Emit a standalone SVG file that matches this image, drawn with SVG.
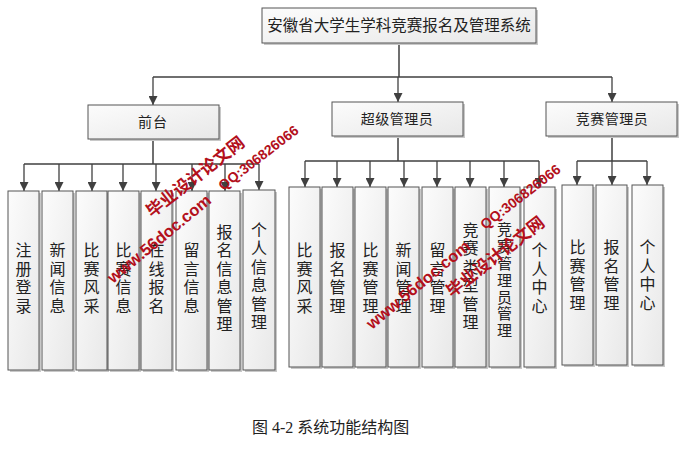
<svg xmlns="http://www.w3.org/2000/svg" width="699" height="462" viewBox="0 0 699 462">
<style>
.bg{fill:#ffffff}
.box{fill:url(#g);stroke:#555;stroke-width:1}
.sh{fill:#c8c8c8}
.t{font-family:"Noto Sans CJK SC","Liberation Sans",sans-serif;font-size:14px;fill:#222;text-anchor:middle}
.v{font-family:"Noto Sans CJK SC","Liberation Sans",sans-serif;font-size:16px;fill:#222;text-anchor:middle;writing-mode:vertical-rl;letter-spacing:2.5px}
.ln{fill:none;stroke:#404040;stroke-width:1.5}
.ar{fill:none;stroke:#404040;stroke-width:1.3;marker-end:url(#ah)}
.cap{font-family:"Liberation Serif","Noto Sans CJK SC",serif;font-size:16px;fill:#222}
.wm{font-family:"Liberation Sans","Noto Sans CJK SC",sans-serif;font-weight:bold;fill:#b3101c}
</style>
<defs>
<linearGradient id="g" x1="0" y1="0" x2="1" y2="1">
<stop offset="0" stop-color="#fcfcfc"/>
<stop offset="1" stop-color="#e8e8e8"/>
</linearGradient>
<marker id="ah" viewBox="0 0 10 10" refX="10" refY="5" markerWidth="9" markerHeight="9" markerUnits="userSpaceOnUse" orient="auto">
<path d="M0,0 L10,5 L0,10 z" fill="#404040"/>
</marker>
</defs>
<rect class="bg" x="0" y="0" width="699" height="462"/>

<g id="connectors">
<path class="ln" d="M399,43 V77 M153,77 H612"/>
<path class="ar" d="M153,77 V105"/>
<path class="ar" d="M398,77 V102"/>
<path class="ar" d="M612,77 V102"/>
<path class="ln" d="M153,139 V164 M24,164 H259"/>
<path class="ar" d="M24,164 V191"/>
<path class="ar" d="M59,164 V191"/>
<path class="ar" d="M92,164 V191"/>
<path class="ar" d="M123,164 V191"/>
<path class="ar" d="M156,164 V191"/>
<path class="ar" d="M192,164 V191"/>
<path class="ar" d="M225,164 V191"/>
<path class="ar" d="M259,164 V190"/>
<path class="ln" d="M398,136 V161 M305,161 H539"/>
<path class="ar" d="M305,161 V187"/>
<path class="ar" d="M337,161 V187"/>
<path class="ar" d="M370,161 V187"/>
<path class="ar" d="M404,161 V187"/>
<path class="ar" d="M437,161 V187"/>
<path class="ar" d="M470,161 V187"/>
<path class="ar" d="M504,161 V187"/>
<path class="ar" d="M539,161 V187"/>
<path class="ln" d="M612,136 V161 M577,161 H647"/>
<path class="ar" d="M577,161 V185"/>
<path class="ar" d="M612,161 V185"/>
<path class="ar" d="M647,161 V185"/>
</g>

<g id="root">
<rect class="sh" x="264" y="10" width="274" height="35"/>
<rect class="box" x="262" y="8" width="274" height="35"/>
<text class="t" x="399" y="31" style="font-size:15.5px">安徽省大学生学科竞赛报名及管理系统</text>
</g>
<g id="front">
<rect class="sh" x="90" y="107" width="131" height="34"/>
<rect class="box" x="88" y="105" width="131" height="34"/>
<text class="t" x="153" y="127" letter-spacing="1">前台</text>
</g>
<g id="super">
<rect class="sh" x="334" y="104" width="131" height="34"/>
<rect class="box" x="332" y="102" width="131" height="34"/>
<text class="t" x="397" y="124" letter-spacing="0.5">超级管理员</text>
</g>
<g id="comp">
<rect class="sh" x="548" y="104" width="131" height="34"/>
<rect class="box" x="546" y="102" width="131" height="34"/>
<text class="t" x="612" y="124" letter-spacing="0.5">竞赛管理员</text>
</g>

<g id="f1"><rect class="sh" x="10" y="193" width="31" height="179"/><rect class="box" x="8" y="191" width="31" height="179"/><text class="v" x="23.5" y="279">注册登录</text></g>
<g id="f2"><rect class="sh" x="44" y="193" width="31" height="179"/><rect class="box" x="42" y="191" width="31" height="179"/><text class="v" x="57.5" y="279">新闻信息</text></g>
<g id="f3"><rect class="sh" x="78" y="193" width="31" height="179"/><rect class="box" x="76" y="191" width="31" height="179"/><text class="v" x="91.5" y="279">比赛风采</text></g>
<g id="f4"><rect class="sh" x="110" y="193" width="31" height="179"/><rect class="box" x="108" y="191" width="31" height="179"/><text class="v" x="123.5" y="279">比赛信息</text></g>
<g id="f5"><rect class="sh" x="143" y="193" width="31" height="179"/><rect class="box" x="141" y="191" width="31" height="179"/><text class="v" x="156.5" y="279">在线报名</text></g>
<g id="f6"><rect class="sh" x="178" y="193" width="31" height="179"/><rect class="box" x="176" y="191" width="31" height="179"/><text class="v" x="191.5" y="279">留言信息</text></g>
<g id="f7"><rect class="sh" x="211" y="193" width="31" height="179"/><rect class="box" x="209" y="191" width="31" height="179"/><text class="v" x="224.5" y="279">报名信息管理</text></g>
<g id="f8"><rect class="sh" x="245" y="192" width="32" height="180"/><rect class="box" x="243" y="190" width="32" height="180"/><text class="v" x="259" y="277">个人信息管理</text></g>

<g id="s1"><rect class="sh" x="291" y="189" width="31" height="180"/><rect class="box" x="289" y="187" width="31" height="180"/><text class="v" x="304.5" y="279">比赛风采</text></g>
<g id="s2"><rect class="sh" x="324" y="189" width="31" height="180"/><rect class="box" x="322" y="187" width="31" height="180"/><text class="v" x="337.5" y="279">报名管理</text></g>
<g id="s3"><rect class="sh" x="357" y="189" width="31" height="180"/><rect class="box" x="355" y="187" width="31" height="180"/><text class="v" x="370.5" y="279">比赛管理</text></g>
<g id="s4"><rect class="sh" x="390" y="189" width="31" height="180"/><rect class="box" x="388" y="187" width="31" height="180"/><text class="v" x="403.5" y="279">新闻管理</text></g>
<g id="s5"><rect class="sh" x="424" y="189" width="31" height="180"/><rect class="box" x="422" y="187" width="31" height="180"/><text class="v" x="437.5" y="279">留言管理</text></g>
<g id="s6"><rect class="sh" x="457" y="189" width="31" height="180"/><rect class="box" x="455" y="187" width="31" height="180"/><text class="v" x="470.5" y="277">竞赛类型管理</text></g>
<g id="s7"><rect class="sh" x="491" y="189" width="31" height="180"/><rect class="box" x="489" y="187" width="31" height="180"/><text class="v" x="504.5" y="281" style="font-size:15px;letter-spacing:1.8px">竞赛管理员管理</text></g>
<g id="s8"><rect class="sh" x="526" y="189" width="31" height="180"/><rect class="box" x="524" y="187" width="31" height="180"/><text class="v" x="539.5" y="279">个人中心</text></g>

<g id="c1"><rect class="sh" x="564" y="187" width="31" height="180"/><rect class="box" x="562" y="185" width="31" height="180"/><text class="v" x="577.5" y="276">比赛管理</text></g>
<g id="c2"><rect class="sh" x="598" y="187" width="31" height="180"/><rect class="box" x="596" y="185" width="31" height="180"/><text class="v" x="611.5" y="276">报名管理</text></g>
<g id="c3"><rect class="sh" x="634" y="187" width="31" height="180"/><rect class="box" x="632" y="185" width="31" height="180"/><text class="v" x="647.5" y="276">个人中心</text></g>

<g id="caption">
<text class="cap" x="252" y="433">图 4-2 系统功能结构图</text>
</g>

<g id="watermarks">
<text class="wm" transform="translate(113,284) rotate(-39.5)" style="font-size:16.5px">www.56doc.com</text>
<text class="wm" transform="translate(152,218) rotate(-38)" style="font-size:17px">毕业设计论文网</text>
<text class="wm" transform="translate(223,191) rotate(-37.5)" style="font-size:14px">QQ:306826066</text>
<text class="wm" transform="translate(372,330) rotate(-39.5)" style="font-size:16.5px">www.56doc.com</text>
<text class="wm" transform="translate(452,298) rotate(-38)" style="font-size:17px">毕业设计论文网</text>
<text class="wm" transform="translate(485,230) rotate(-37.5)" style="font-size:14px">QQ:306826066</text>
</g>
</svg>
